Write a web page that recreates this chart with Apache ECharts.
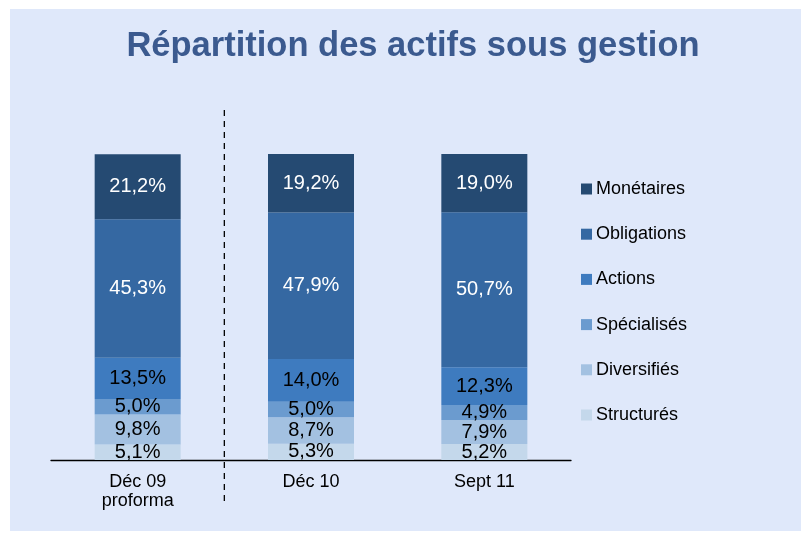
<!DOCTYPE html>
<html><head><meta charset="utf-8">
<script src="https://cdn.jsdelivr.net/npm/echarts@6/dist/echarts.min.js"></script>
<style>html,body{margin:0;padding:0;background:#fff;}#c{width:801px;height:533px;}</style>
</head><body><div id="c"></div>
<script>
const categories = ['Déc 09\nproforma', 'Déc 10', 'Sept 11'];
const seriesNames = ['Structurés', 'Diversifiés', 'Spécialisés', 'Actions', 'Obligations', 'Monétaires'];
const structures = [5.1, 5.3, 5.2];
const diversifies = [9.8, 8.7, 7.9];
const specialises = [5.0, 5.0, 4.9];
const actions = [13.5, 14.0, 12.3];
const obligations = [45.3, 47.9, 50.7];
const monetaires = [21.2, 19.2, 19.0];
const values = [structures, diversifies, specialises, actions, obligations, monetaires];
const colors = ['#c4d8eb', '#a3c1e1', '#6b9bcf', '#3e7bbf', '#3568a2', '#254a72'];
const labelColors = ['#000', '#000', '#000', '#000', '#fff', '#fff'];

const chart = echarts.init(document.getElementById('c'));
const font = 'Liberation Sans, Arial, sans-serif';
chart.setOption({
  animation: false,
  backgroundColor: '#fff',
  title: {
    text: 'Répartition des actifs sous gestion',
    left: 408, top: 24, textAlign: 'center',
    textStyle: { fontFamily: font, fontSize: 34.5, fontWeight: 'bold', color: '#3b5a8f' }
  },
  legend: {
    data: seriesNames.slice().reverse(),
    orient: 'vertical', left: 576, top: 175,
    itemWidth: 11, itemHeight: 11, itemGap: 27.2, icon: 'rect',
    textStyle: { fontFamily: font, fontSize: 18, color: '#000', padding: [0,0,0,-1] }
  },
  grid: { left: 51, right: 230, top: 154, bottom: 73 },
  xAxis: {
    type: 'category', data: categories,
    axisLine: { lineStyle: { color: '#000', width: 1.3 } },
    axisTick: { show: false },
    axisLabel: { fontFamily: font, fontSize: 18, color: '#000', margin: 13, lineHeight: 19 }
  },
  yAxis: { type: 'value', min: 0, max: 100, show: false, splitLine: { show: false } },
  series: seriesNames.map((n, i) => ({
    name: n, type: 'bar', stack: 'a', barWidth: 86,
    data: values[i],
    itemStyle: { color: colors[i] },
    label: {
      show: true, position: 'inside', fontFamily: font, fontSize: 20,
      color: labelColors[i],
      formatter: p => p.value.toFixed(1).replace('.', ',') + '%'
    }
  }))
});

// background panel and dashed divider between first and second category
const p0 = chart.convertToPixel({ xAxisIndex: 0 }, 0);
const p1 = chart.convertToPixel({ xAxisIndex: 0 }, 1);
const xd = (p0 + p1) / 2;
chart.setOption({
  graphic: [
    { type: 'rect', z: -10, silent: true, shape: { x: 10, y: 9, width: 791, height: 522 }, style: { fill: '#dfe8fa' } },
    { type: 'line', z: 10, silent: true, shape: { x1: xd, y1: 110, x2: xd, y2: 505 }, style: { stroke: '#000', lineWidth: 1.3, lineDash: [6, 5] } }
  ]
});
</script></body></html>
